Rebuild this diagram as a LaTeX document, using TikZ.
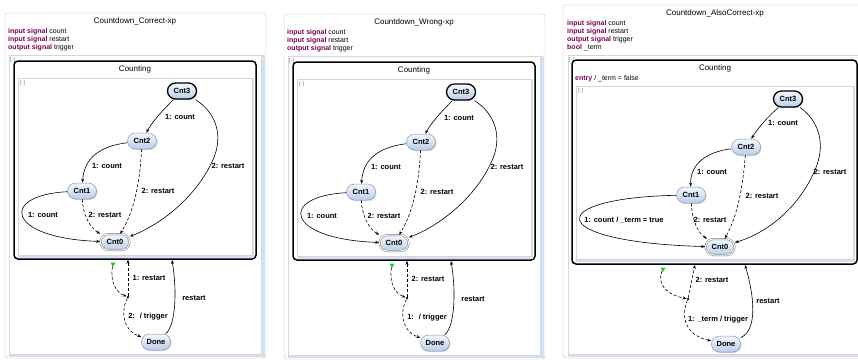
\documentclass[tikz,border=0pt]{standalone}
\usepackage{fontspec}
\setmainfont{Liberation Sans}
\usepackage{xcolor}
\usepackage{tikz}
\usetikzlibrary{arrows.meta,shapes.geometric,shadows}

\definecolor{kwpurple}{HTML}{7F0055}
\definecolor{panelgray}{HTML}{C4C4C4}
\definecolor{bandblue}{HTML}{D4E0F4}
\definecolor{regionline}{HTML}{D6D6D6}
\definecolor{statetop}{HTML}{F4F8FE}
\definecolor{statebot}{HTML}{BACDEC}
\definecolor{stateline}{HTML}{8696B0}
\definecolor{initgreen}{HTML}{22CC22}

\newcommand{\kw}[1]{\textcolor{kwpurple}{\textbf{#1}}}

\tikzset{
    panel/.style={draw=panelgray, fill=white, rounded corners=3pt},
    region/.style={draw=regionline, fill=white, line width=0.4pt},
    composite/.style={draw=black, line width=1.5pt, rounded corners=4pt, fill=white, inner sep=0pt},
    title/.style={inner sep=0pt, font=\fontsize{8}{9}\selectfont},
    decl/.style={anchor=west, inner sep=0pt, font=\fontsize{7}{8}\selectfont},
    fold/.style={anchor=north west, inner sep=0pt, text=gray, font=\fontsize{5.5}{6}\selectfont},
    state/.style={rounded corners=8pt, draw=stateline, line width=0.5pt, top color=statetop, bottom color=statebot,
        minimum width=29pt, minimum height=16pt, inner sep=1pt, font=\bfseries\fontsize{7.5}{8}\selectfont,
        drop shadow={opacity=0.3, shadow xshift=1pt, shadow yshift=-1pt}},
    initial/.style={draw=black, line width=1.3pt},
    final/.style={draw=gray, double=white, double distance=1pt},
    junction/.style={circle, fill=black, inner sep=0pt, minimum size=2.5pt},
    initmark/.style={regular polygon, regular polygon sides=3, shape border rotate=180, fill=initgreen, inner sep=0pt, minimum size=6pt},
    trans/.style={-{Stealth[length=4pt, width=3pt]}, line width=0.6pt},
    dashedtrans/.style={trans, dash pattern=on 3pt off 2pt},
    lbl/.style={inner sep=0.5pt, font=\bfseries\fontsize{7.5}{8}\selectfont}
}

\begin{document}
\begin{tikzpicture}[x=1pt, y=-1pt]
    \useasboundingbox (0,0) rectangle (858,359);
    \clip (0,0) rectangle (858,359);

    % panel A
    \draw[panel] (5,13) rectangle (266,358);
    \fill[bandblue] (9,55) rectangle (265,357);
    \draw[region] (9,55) rectangle (261,354);
    \node[title] (titlea) at (135,21) {Countdown\_Correct-xp};
    \node[decl] (deca1) at (8,32) {\kw{input signal} count};
    \node[decl] (deca2) at (8,40) {\kw{input signal} restart};
    \node[decl] (deca3) at (8,48) {\kw{output signal} trigger};
    \node[fold] (folda) at (10,57) {[-]};
    \node[composite, minimum width=242pt, minimum height=198pt] (counta) at (135,160) {};
    \node[title] (ctitlea) at (135,69) {Counting};
    \fill[bandblue] (18,78) rectangle (254,257.5);
    \draw[region] (18,78) rectangle (252,255);
    \node[fold] (foldia) at (20,80) {[-]};

    \node[state, initial] (cnt3a) at (182,91) {Cnt3};
    \node[state] (cnt2a) at (142,141) {Cnt2};
    \node[state] (cnt1a) at (82,191) {Cnt1};
    \node[state, final] (cnt0a) at (115,242) {Cnt0};
    \node[state] (donea) at (156,342) {Done};
    \node[junction] (juna) at (128,297) {};
    \node[initmark] (inita) at (113,264) {};
    \coordinate (resa) at (172,260);

    \draw[trans] (cnt3a) .. controls (163,110) and (152,122) .. (cnt2a);
    \draw[trans] (cnt3a) .. controls (215,112) and (225,135) .. (212,162) .. controls (195,198) and (160,225) .. (cnt0a);
    \draw[trans] (cnt2a) .. controls (100,146) and (84,158) .. (cnt1a);
    \draw[dashedtrans] (cnt2a) .. controls (140,180) and (135,210) .. (cnt0a);
    \draw[trans] (cnt1a) .. controls (0,195) and (5,238) .. (cnt0a);
    \draw[dashedtrans] (cnt1a) .. controls (83,215) and (90,228) .. (cnt0a);
    \draw[dashedtrans] (inita) .. controls (110,280) and (115,292) .. (juna);
    \draw[dashedtrans] (juna) -- (juna |- counta.south);
    \draw[dashedtrans] (juna) .. controls (121,310) and (122,330) .. (donea);
    \draw[trans] (donea) .. controls (176,325) and (177,290) .. (resa);

    \node[lbl] (l32a) at (180,117) {1: count};
    \node[lbl] (l30a) at (228,166) {2: restart};
    \node[lbl] (l21a) at (107,166) {1: count};
    \node[lbl] (l20a) at (158,191) {2: restart};
    \node[lbl] (l10a) at (43,215) {1: count};
    \node[lbl] (l1ra) at (105,215) {2: restart};
    \node[lbl] (ljca) at (149,278) {1: restart};
    \node[lbl] (ljda) at (148,317) {2: \ / trigger};
    \node[lbl] (ldca) at (194,298) {restart};

    % panel B
    \begin{scope}[shift={(279,1)}]
    \draw[panel] (5,13) rectangle (266,358);
    \fill[bandblue] (9,55) rectangle (265,357);
    \draw[region] (9,55) rectangle (261,354);
    \node[title] (titleb) at (135,21) {Countdown\_Wrong-xp};
    \node[decl] (decb1) at (8,32) {\kw{input signal} count};
    \node[decl] (decb2) at (8,40) {\kw{input signal} restart};
    \node[decl] (decb3) at (8,48) {\kw{output signal} trigger};
    \node[fold] (foldb) at (10,57) {[-]};
    \node[composite, minimum width=242pt, minimum height=198pt] (countb) at (135,160) {};
    \node[title] (ctitleb) at (135,69) {Counting};
    \fill[bandblue] (18,78) rectangle (254,257.5);
    \draw[region] (18,78) rectangle (252,255);
    \node[fold] (foldib) at (20,80) {[-]};

    \node[state, initial] (cnt3b) at (182,91) {Cnt3};
    \node[state] (cnt2b) at (142,141) {Cnt2};
    \node[state] (cnt1b) at (82,191) {Cnt1};
    \node[state, final] (cnt0b) at (115,242) {Cnt0};
    \node[state] (doneb) at (156,342) {Done};
    \node[junction] (junb) at (128,297) {};
    \node[initmark] (initb) at (113,264) {};
    \coordinate (resb) at (172,260);

    \draw[trans] (cnt3b) .. controls (163,110) and (152,122) .. (cnt2b);
    \draw[trans] (cnt3b) .. controls (215,112) and (225,135) .. (212,162) .. controls (195,198) and (160,225) .. (cnt0b);
    \draw[trans] (cnt2b) .. controls (100,146) and (84,158) .. (cnt1b);
    \draw[dashedtrans] (cnt2b) .. controls (140,180) and (135,210) .. (cnt0b);
    \draw[trans] (cnt1b) .. controls (0,195) and (5,238) .. (cnt0b);
    \draw[dashedtrans] (cnt1b) .. controls (83,215) and (90,228) .. (cnt0b);
    \draw[dashedtrans] (initb) .. controls (110,280) and (115,292) .. (junb);
    \draw[dashedtrans] (junb) -- (junb |- countb.south);
    \draw[dashedtrans] (junb) .. controls (121,310) and (122,330) .. (doneb);
    \draw[trans] (doneb) .. controls (176,325) and (177,290) .. (resb);

    \node[lbl] (l32b) at (180,117) {1: count};
    \node[lbl] (l30b) at (228,166) {2: restart};
    \node[lbl] (l21b) at (107,166) {1: count};
    \node[lbl] (l20b) at (158,191) {2: restart};
    \node[lbl] (l10b) at (43,215) {1: count};
    \node[lbl] (l1rb) at (105,215) {2: restart};
    \node[lbl] (ljcb) at (149,278) {2: restart};
    \node[lbl] (ljdb) at (148,317) {1: \ / trigger};
    \node[lbl] (ldcb) at (194,298) {restart};
    \end{scope}

    % panel C
    \draw[panel] (563,5) rectangle (872,358);
    \fill[bandblue] (568,55) rectangle (872,357);
    \draw[region] (568,55) rectangle (872,354);
    \node[title] (titlec) at (715,13) {Countdown\_AlsoCorrect-xp};
    \node[decl] (decc1) at (567,24) {\kw{input signal} count};
    \node[decl] (decc2) at (567,32) {\kw{input signal} restart};
    \node[decl] (decc3) at (567,40) {\kw{output signal} trigger};
    \node[decl] (decc4) at (567,48) {\kw{bool} \_term};
    \node[fold] (foldc) at (569,57) {[-]};
    \node[composite, minimum width=285pt, minimum height=204pt] (countc) at (714.5,162) {};
    \node[title] (ctitlec) at (715,68) {Counting};
    \node[decl] (entryc) at (575,79) {\kw{entry} / \_term = false};
    \fill[bandblue] (576,86) rectangle (855,261.5);
    \draw[region] (576,86) rectangle (853,259);
    \node[fold] (foldic) at (578,88) {[-]};

    \node[state, initial] (cnt3c) at (788,99) {Cnt3};
    \node[state] (cnt2c) at (746,147) {Cnt2};
    \node[state] (cnt1c) at (691,195) {Cnt1};
    \node[state, final] (cnt0c) at (720,247) {Cnt0};
    \node[state] (donec) at (726,344) {Done};
    \node[junction] (junc) at (688,299) {};
    \node[initmark] (initc) at (663,269) {};
    \coordinate (rstc) at (695,265);
    \coordinate (resc) at (745,265);

    \draw[trans] (cnt3c) .. controls (770,115) and (760,125) .. (cnt2c);
    \draw[trans] (cnt3c) .. controls (815,118) and (828,140) .. (815,170) .. controls (800,205) and (770,232) .. (cnt0c);
    \draw[trans] (cnt2c) .. controls (705,152) and (690,165) .. (cnt1c);
    \draw[dashedtrans] (cnt2c) .. controls (743,185) and (738,215) .. (cnt0c);
    \draw[trans] (cnt1c) .. controls (543,198) and (543,242) .. (cnt0c);
    \draw[dashedtrans] (cnt1c) .. controls (692,220) and (698,233) .. (cnt0c);
    \draw[dashedtrans] (initc) .. controls (657,282) and (664,294) .. (junc);
    \draw[dashedtrans] (junc) -- (rstc);
    \draw[dashedtrans] (junc) .. controls (681,315) and (684,335) .. (donec);
    \draw[trans] (donec) .. controls (758,330) and (754,295) .. (resc);

    \node[lbl] (l32c) at (783,123) {1: count};
    \node[lbl] (l30c) at (830,172) {2: restart};
    \node[lbl] (l21c) at (712,172) {1: count};
    \node[lbl] (l20c) at (762,196) {2: restart};
    \node[lbl] (l10c) at (624,220) {1: count / \_term = true};
    \node[lbl] (l1rc) at (710,220) {2: restart};
    \node[lbl] (ljcc) at (712,280) {2: restart};
    \node[lbl] (ljdc) at (718,320) {1: \_term / trigger};
    \node[lbl] (ldcc) at (768,301) {restart};
\end{tikzpicture}
\end{document}
